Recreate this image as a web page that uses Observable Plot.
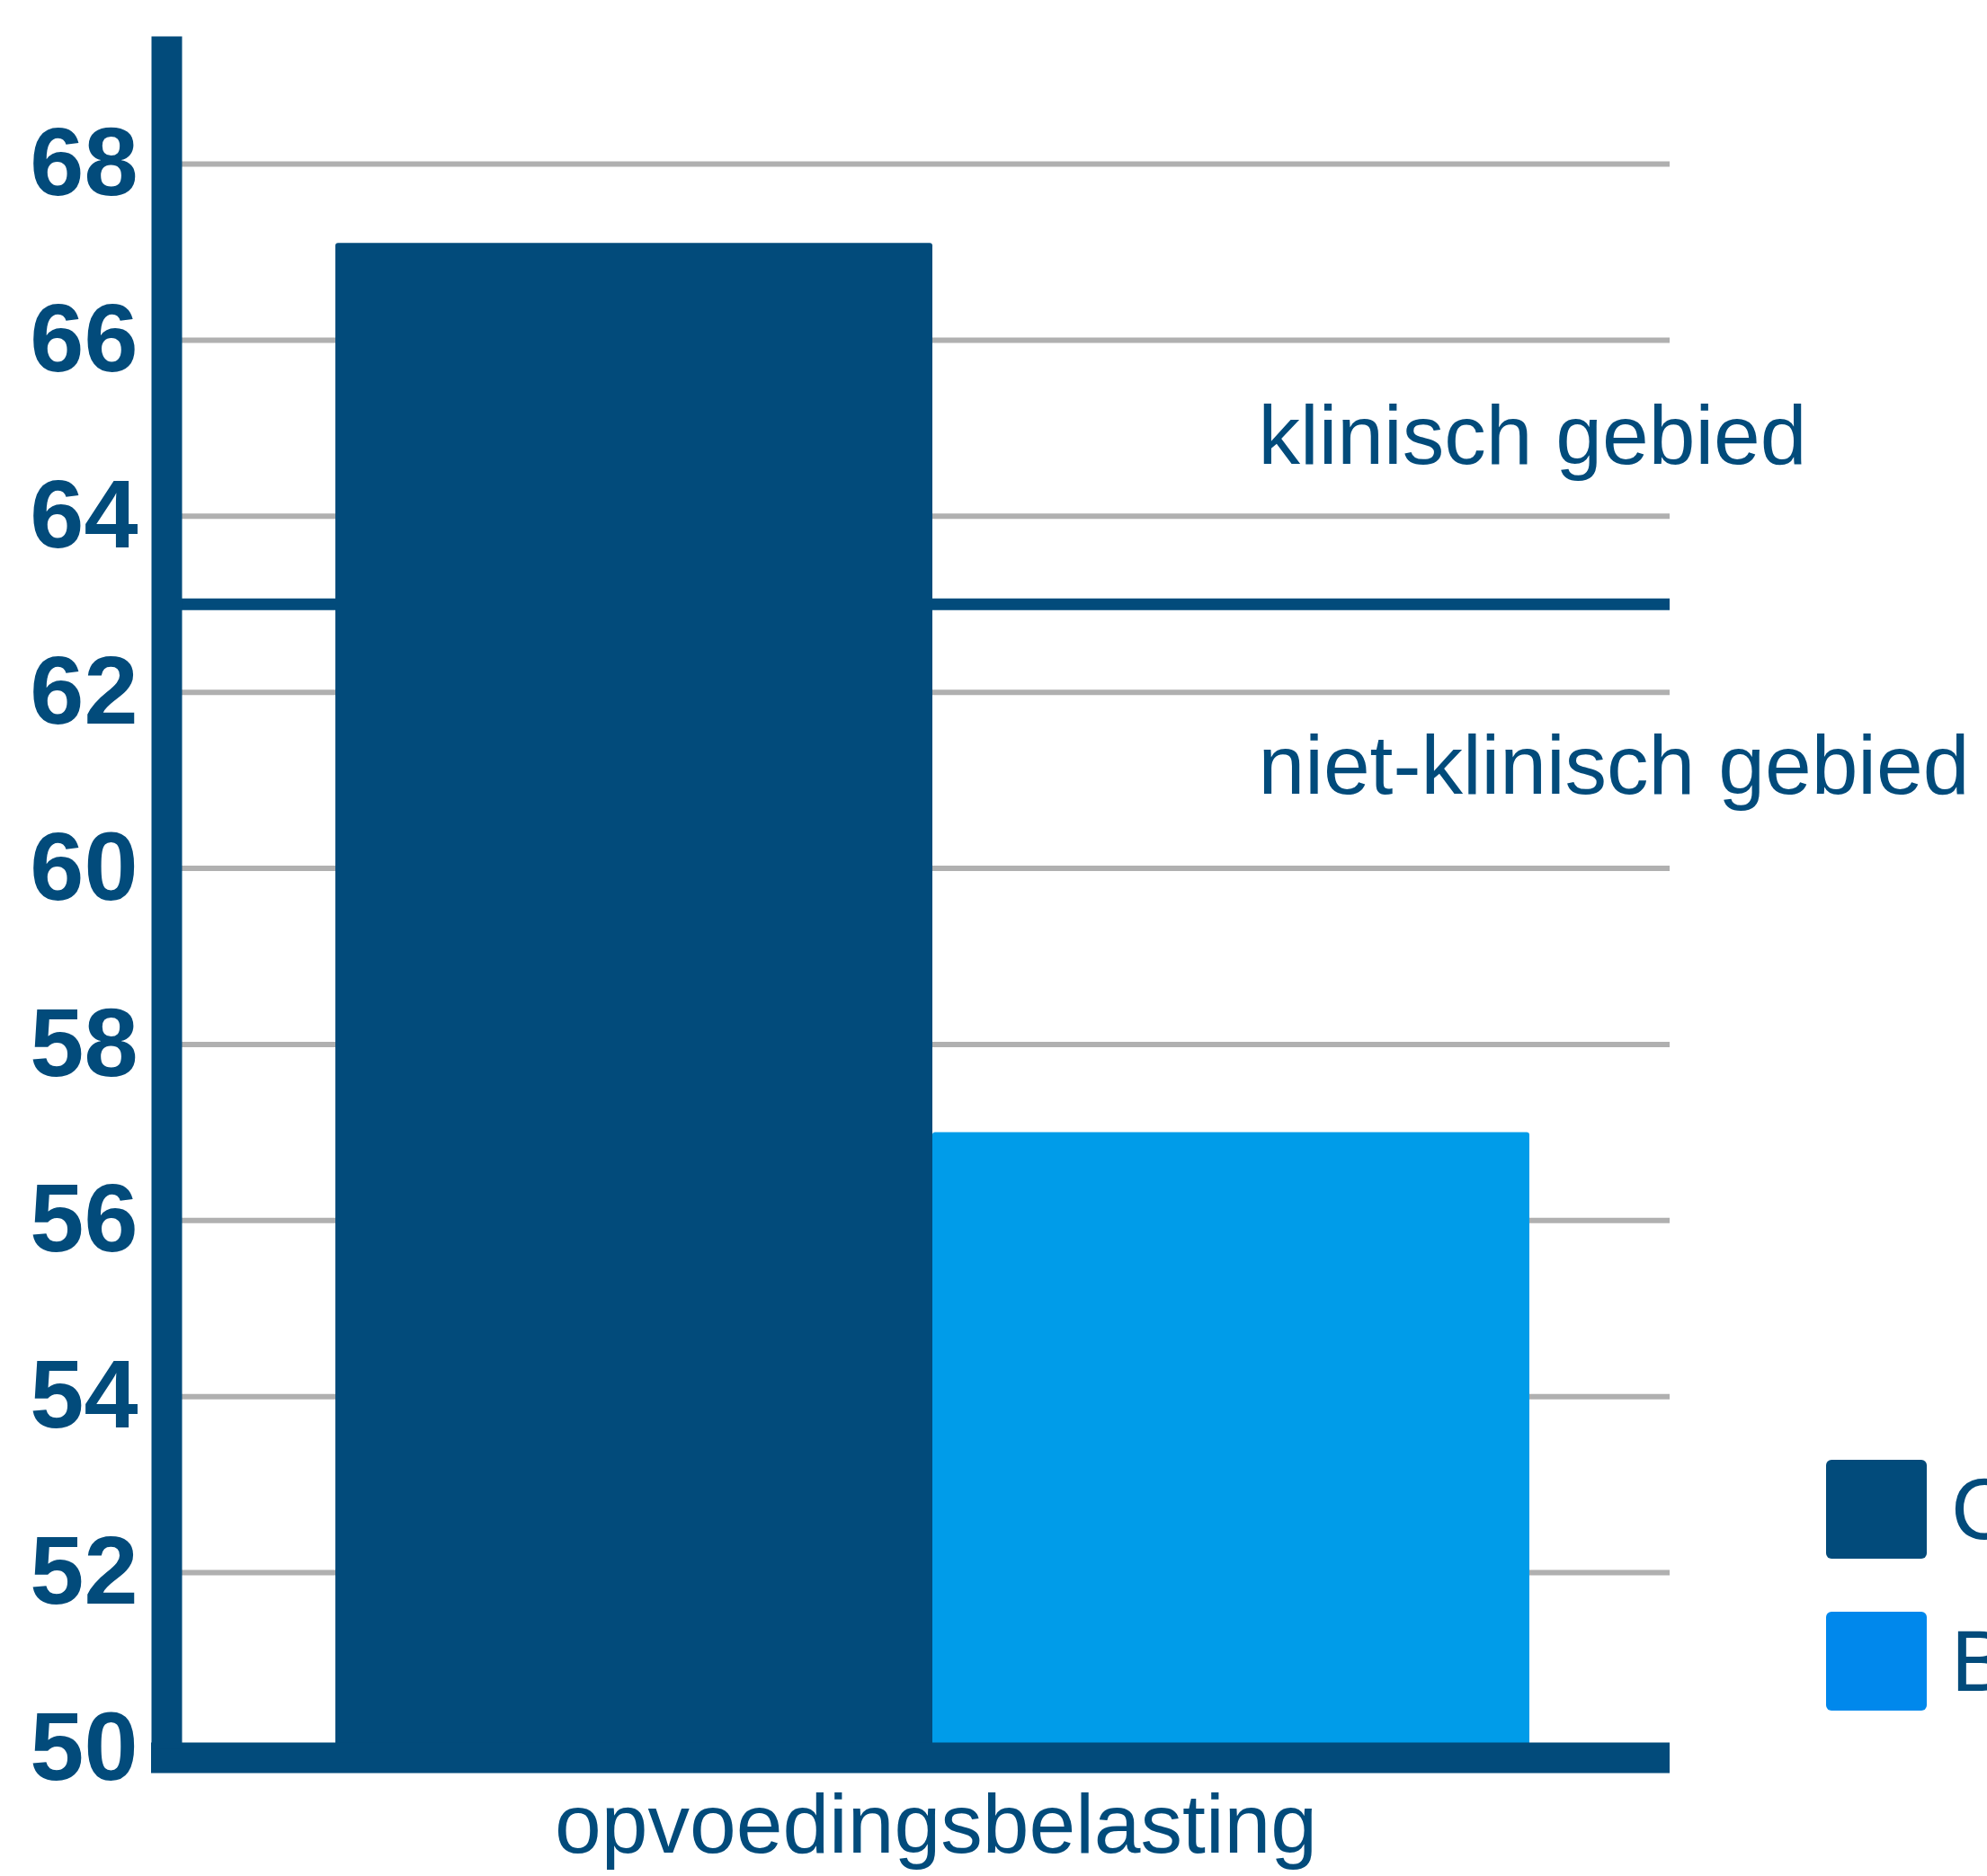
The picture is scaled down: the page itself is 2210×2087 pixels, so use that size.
<!DOCTYPE html>
<html>
<head>
<meta charset="utf-8">
<script src="https://cdn.jsdelivr.net/npm/d3@7"></script>
<script src="https://cdn.jsdelivr.net/npm/@observablehq/plot@0.6"></script>
<style>
  html, body { margin: 0; padding: 0; background: #fff; overflow: hidden; }
  #wrap { position: relative; width: 2210px; height: 2087px; font-family: "Liberation Sans", Arial, sans-serif; }
  #legend { position: absolute; left: 2031px; top: 1623px; }
  .item { display: flex; align-items: center; height: 112px; margin-bottom: 57px; white-space: nowrap; }
  .sw { width: 112px; height: 110px; border-radius: 6px; margin-right: 27px; }
  .lab { font-size: 96px; color: #024B7B; }
</style>
</head>
<body>
<div id="wrap"><div id="chart"></div><div id="legend"></div></div>
<script>
// ---- data ----
const categories = ["opvoedingsbelasting"];
const series = ["Cliënten", "Bevolking"];
const values = [67.1, 57.0];
const barColors = ["#024B7B", "#009CE9"];
const legendColors = ["#024B7B", "#0088EC"];
const yTicks = [50, 52, 54, 56, 58, 60, 62, 64, 66, 68];
const threshold = 63;
const zoneLabels = ["klinisch gebied", "niet-klinisch gebied"];
const zoneLabelY = [64.9, 61.15];
const yMax = 69.45;

const data = series.map((s, i) => ({series: s, value: values[i], category: categories[0]}));
const zones = zoneLabels.map((t, i) => ({text: t, y: zoneLabelY[i], series: series[1]}));

const dark = "#024B7B";
const chart = Plot.plot({
  width: 2210,
  height: 2087,
  marginLeft: 168,
  marginRight: 353,
  marginTop: 40,
  marginBottom: 142,
  style: {fontFamily: "'Liberation Sans', Arial, sans-serif", background: "#fff", overflow: "visible"},
  x: {domain: series, paddingInner: 0, paddingOuter: 0.271, align: 0.567, axis: null},
  y: {domain: [50, yMax], axis: null},
  color: {domain: series, range: barColors},
  marks: [
    Plot.ruleY(yTicks, {stroke: "#b0b0b0", strokeWidth: 6, insetLeft: 8}),
    Plot.ruleY([threshold], {stroke: dark, strokeWidth: 13, insetLeft: 8}),
    Plot.barY(data, {x: "series", y1: 50, y2: "value", fill: "series", rx: 3}),
    Plot.ruleY([50], {stroke: dark, strokeWidth: 34, dy: 10}),
    Plot.frame({anchor: "left", stroke: dark, strokeWidth: 34, dx: 17, strokeLinecap: "butt"}),
    Plot.text(yTicks, {y: d => d, frameAnchor: "left", textAnchor: "end", dx: -15, fontSize: 108, fontWeight: "bold", fill: dark}),
    Plot.text(zones, {x: "series", y: "y", text: "text", textAnchor: "start", dx: 30, fontSize: 93, fill: dark}),
    Plot.text(categories, {frameAnchor: "bottom", text: d => d, dx: 28, dy: 115, fontSize: 93, fill: dark})
  ]
});
document.getElementById("chart").appendChild(chart);

const legend = document.getElementById("legend");
series.forEach((s, i) => {
  const item = document.createElement("div");
  item.className = "item";
  item.innerHTML = `<div class="sw" style="background:${legendColors[i]}"></div><span class="lab">${s}</span>`;
  legend.appendChild(item);
});
</script>
</body>
</html>
